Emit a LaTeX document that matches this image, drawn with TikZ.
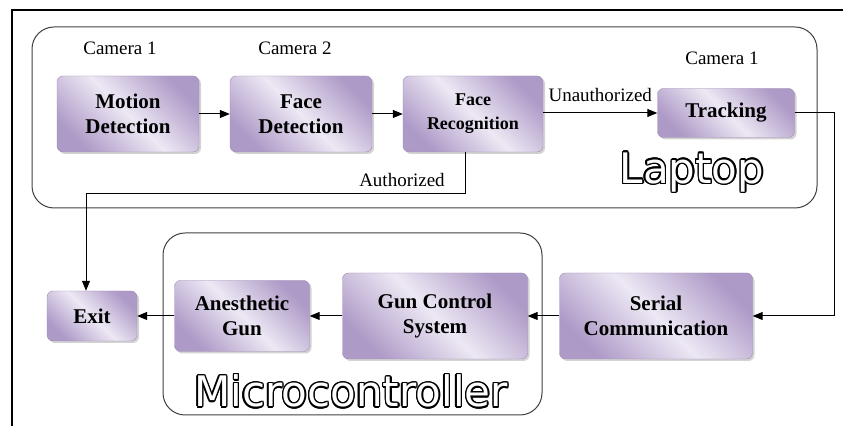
\documentclass[tikz,border=0pt]{standalone}
\usepackage{fontspec}
\setmainfont{Liberation Serif}[BoldFont={Liberation Serif Bold}, ItalicFont={Liberation Serif Italic}]
\newfontfamily\outfont{DejaVu Sans}
\usepackage[copies]{contour}
\contourlength{0.7pt}
\usetikzlibrary{arrows.meta,shadows}
\definecolor{boxdark}{HTML}{AE9AC7}
\definecolor{boxlight}{HTML}{EDE8F4}
\newcommand{\hwtext}[1]{\contour{black}{\textcolor{white}{#1}}}
\tikzset{
  block/.style={rounded corners=3pt, draw=boxdark!90!black, line width=0.2pt,
    left color=boxdark, right color=boxdark, middle color=boxlight, shading angle=135,
    drop shadow={shadow xshift=1pt, shadow yshift=-1pt, opacity=0.35},
    font=\bfseries\fontsize{10.5}{12.5}\selectfont, align=center, inner sep=0pt},
  flow/.style={-{Triangle[length=5pt,width=4pt]}, line width=0.5pt},
  group/.style={draw=black!75, rounded corners=11pt, line width=0.5pt},
  cam/.style={font=\fontsize{9.5}{11}\selectfont},
  hwlabel/.style={font=\outfont\fontsize{21}{24}\selectfont}
}

\begin{document}
\begin{tikzpicture}[x=0.5pt, y=-0.5pt]
  %%%%% FRAME %%%%%
  \useasboundingbox (0,0) rectangle (843,426);
  \draw[line width=1pt] (843,10) -- (12,10) -- (12,426);

  %%%%% LAPTOP %%%%%
  \draw[group] (32,27) rectangle (817,208);
  \node[hwlabel] (laptop) at (692,173) {\hwtext{Laptop}};

  \node[cam] (cam1) at (120,48) {Camera 1};
  \node[cam] (cam2) at (295,48) {Camera 2};
  \node[cam] (cam3) at (722,58) {Camera 1};

  \node[block, minimum width=71pt, minimum height=38pt] (md) at (128,114) {Motion\\Detection};
  \node[block, minimum width=71pt, minimum height=38pt] (fd) at (301,114) {Face\\Detection};
  \node[block, minimum width=70pt, minimum height=38pt, font=\bfseries\fontsize{9}{12}\selectfont] (fr) at (473,114) {Face\\Recognition};
  \node[block, minimum width=68.5pt, minimum height=24.5pt] (tr) at (726,113) {Tracking};

  \draw[flow] (md) -- (fd);
  \draw[flow] (fd) -- (fr);
  \draw[flow] (fr.east |- tr.west) -- node[cam, above, pos=0.5, yshift=2pt] (unauth) {Unauthorized} (tr.west);

  %%%%% MICROCONTROLLER %%%%%
  \draw[group] (163,233) rectangle (542,415);
  \node[hwlabel] (micro) at (351,392) {\hwtext{Microcontroller}};

  \node[block, minimum width=45pt, minimum height=25pt] (ex) at (92,316) {Exit};
  \node[block, minimum width=67.5pt, minimum height=35.5pt] (ag) at (242,316) {Anesthetic\\Gun};
  \node[block, minimum width=92.5pt, minimum height=43pt] (gcs) at (435,316) {Gun Control\\System};
  \node[block, minimum width=96.5pt, minimum height=43pt] (sc) at (656,316) {Serial\\Communication};

  \draw[flow] (tr.east) -- ++(40,0) |- (sc.east);
  \draw[flow] (sc) -- (gcs);
  \draw[flow] (gcs) -- (ag);
  \draw[flow] (ag) -- (ex);
  \draw[flow] ([xshift=-4pt]fr.south) -- ++(0,41) -| ([xshift=-3pt]ex.north);
  \node[cam] (auth) at (402,180) {Authorized};
  %%%%% END %%%%%
\end{tikzpicture}
\end{document}
